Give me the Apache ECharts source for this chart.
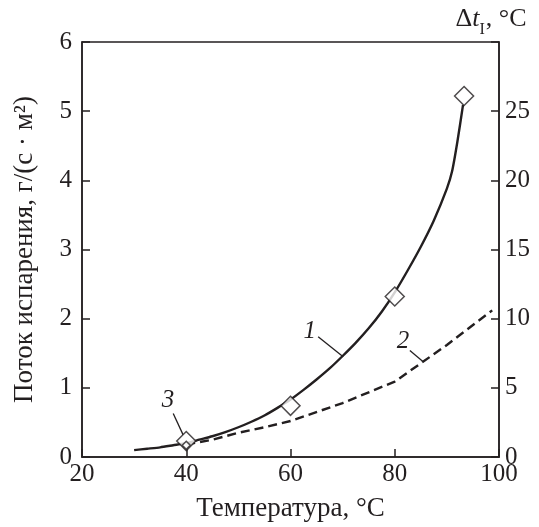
<!DOCTYPE html>
<html>
<head>
<meta charset="utf-8">
<script src="https://cdn.jsdelivr.net/npm/echarts@6/dist/echarts.min.js"></script>
<style>
html,body{margin:0;padding:0;background:#fff;}
#chart{width:539px;height:527px;}
</style>
</head>
<body>
<div id="chart"></div>
<script>
// Curve 1: evaporation flux, g/(s·m²) (left axis)
var temps1 = [30, 32.5, 35, 37.5, 40, 42.5, 45, 47.5, 50, 52.5, 55, 57.5, 60, 62.5, 65, 67.5, 70, 72.5, 75, 77.5, 80, 82.5, 85, 87.5, 90, 91, 92, 93.1];
var flux1  = [0.10, 0.12, 0.14, 0.17, 0.20, 0.25, 0.30, 0.36, 0.43, 0.51, 0.60, 0.71, 0.83, 0.97, 1.12, 1.28, 1.46, 1.65, 1.86, 2.10, 2.38, 2.70, 3.04, 3.42, 3.88, 4.13, 4.55, 5.09];
// Curve 2: Δt_I, °C (right axis)
var temps2 = [40, 45, 50, 55, 60, 70, 80, 90, 98.7];
var dt2    = [0.9, 1.25, 1.75, 2.15, 2.6, 3.9, 5.45, 8.1, 10.6];
// Points 3: experiment (left axis)
var tempsExp = [40, 60, 80, 93.3];
var fluxExp  = [0.23, 0.74, 2.32, 5.22];
// Small marker under point at 40 °C (right axis)
var tempsExpSmall = [40];
var dtExpSmall = [0.85];
// Axis ticks
var xTicks = [20, 40, 60, 80, 100];
var yLeftTicks = [0, 1, 2, 3, 4, 5, 6];
var yRightTicks = [0, 5, 10, 15, 20, 25, 30];
// Curve labels (text, anchor) and leader lines, in data coordinates (left axis)
var curveLabels = [
  {name: '1', at: [63.7, 1.81], from: [65.3, 1.74], to: [70.1, 1.45]},
  {name: '2', at: [81.6, 1.67], from: [82.9, 1.54], to: [85.4, 1.38]},
  {name: '3', at: [36.5, 0.82], from: [37.5, 0.63], to: [39.4, 0.32]}
];

var ink = '#231f20';
var font = '"Liberation Serif", "DejaVu Serif", serif';

function pairs(xs, ys) { return xs.map(function (x, i) { return [x, ys[i]]; }); }

var chart = echarts.init(document.getElementById('chart'));
chart.setOption({
  backgroundColor: '#fff',
  animation: false,
  textStyle: {fontFamily: font, color: ink},
  grid: {left: 82, right: 40, top: 42, bottom: 68, show: true, borderColor: ink, borderWidth: 1.5, containLabel: false},
  xAxis: {
    type: 'value', min: xTicks[0], max: xTicks[xTicks.length - 1], interval: 20,
    name: 'Температура, °C', nameLocation: 'middle', nameGap: 38,
    nameTextStyle: {fontFamily: font, fontSize: 27, color: ink},
    axisLine: {lineStyle: {color: ink, width: 1.5}},
    axisTick: {inside: true, length: 8, lineStyle: {color: ink, width: 1.5}},
    axisLabel: {fontFamily: font, fontSize: 25, color: ink, margin: 5},
    splitLine: {show: false}
  },
  yAxis: [{
    type: 'value', min: yLeftTicks[0], max: yLeftTicks[yLeftTicks.length - 1], interval: 1,
    name: 'Поток испарения, г/(с · м²)', nameLocation: 'middle', nameGap: 44, nameRotate: 90,
    nameTextStyle: {fontFamily: font, fontSize: 27, color: ink},
    axisLine: {show: true, lineStyle: {color: ink, width: 1.5}},
    axisTick: {show: true, inside: true, length: 8, lineStyle: {color: ink, width: 1.5}},
    axisLabel: {fontFamily: font, fontSize: 25, color: ink, margin: 10},
    splitLine: {show: false}
  }, {
    type: 'value', position: 'right', min: yRightTicks[0], max: yRightTicks[yRightTicks.length - 1], interval: 5,
    name: '{d|Δ}{t|t}{s|I}{d|, °C}', nameLocation: 'end', nameGap: 10,
    nameTextStyle: {
      align: 'center', padding: [0, 0, 0, -16],
      rich: {
        d: {fontFamily: font, fontSize: 26, color: ink, verticalAlign: 'bottom'},
        t: {fontFamily: font, fontSize: 26, fontStyle: 'italic', color: ink, verticalAlign: 'bottom'},
        s: {fontFamily: font, fontSize: 16, color: ink, verticalAlign: 'bottom', padding: [0, 1, -6, 0]}
      }
    },
    axisLine: {show: true, lineStyle: {color: ink, width: 1.5}},
    axisTick: {show: true, inside: true, length: 8, lineStyle: {color: ink, width: 1.5}},
    axisLabel: {fontFamily: font, fontSize: 25, color: ink, margin: 6,
      formatter: function (v) { return v === 30 ? '' : String(v); }},
    splitLine: {show: false}
  }],
  series: [{
    name: '1', type: 'line', yAxisIndex: 0, data: pairs(temps1, flux1),
    smooth: 0.2, showSymbol: false, symbol: 'none',
    lineStyle: {color: ink, width: 2.4}, z: 3,
    markLine: {
      silent: true, symbol: ['none', 'none'], animation: false,
      label: {show: false},
      lineStyle: {color: ink, width: 1.3, type: 'solid'},
      data: curveLabels.map(function (c) { return [{coord: c.from}, {coord: c.to}]; })
    },
    markPoint: {
      silent: true, symbol: 'circle', symbolSize: 1, itemStyle: {color: 'rgba(0,0,0,0)'},
      label: {show: true, position: 'inside', fontFamily: font, fontSize: 25, fontStyle: 'italic', color: ink,
        formatter: function (p) { return p.name; }},
      data: curveLabels.map(function (c) { return {name: c.name, coord: c.at}; })
    }
  }, {
    name: '2', type: 'line', yAxisIndex: 1, data: pairs(temps2, dt2),
    smooth: false, showSymbol: false, symbol: 'none',
    lineStyle: {color: ink, width: 2.4, type: [9, 5]}, z: 2
  }, {
    name: '3', type: 'scatter', yAxisIndex: 0, data: pairs(tempsExp, fluxExp),
    symbol: 'diamond', symbolSize: 19,
    itemStyle: {color: '#fff', borderColor: ink, borderWidth: 1.5}, z: 5
  }, {
    name: '3b', type: 'scatter', yAxisIndex: 1, data: pairs(tempsExpSmall, dtExpSmall),
    symbol: 'diamond', symbolSize: 8,
    itemStyle: {color: '#fff', borderColor: ink, borderWidth: 1.5}, z: 6
  }]
});
</script>
</body>
</html>
